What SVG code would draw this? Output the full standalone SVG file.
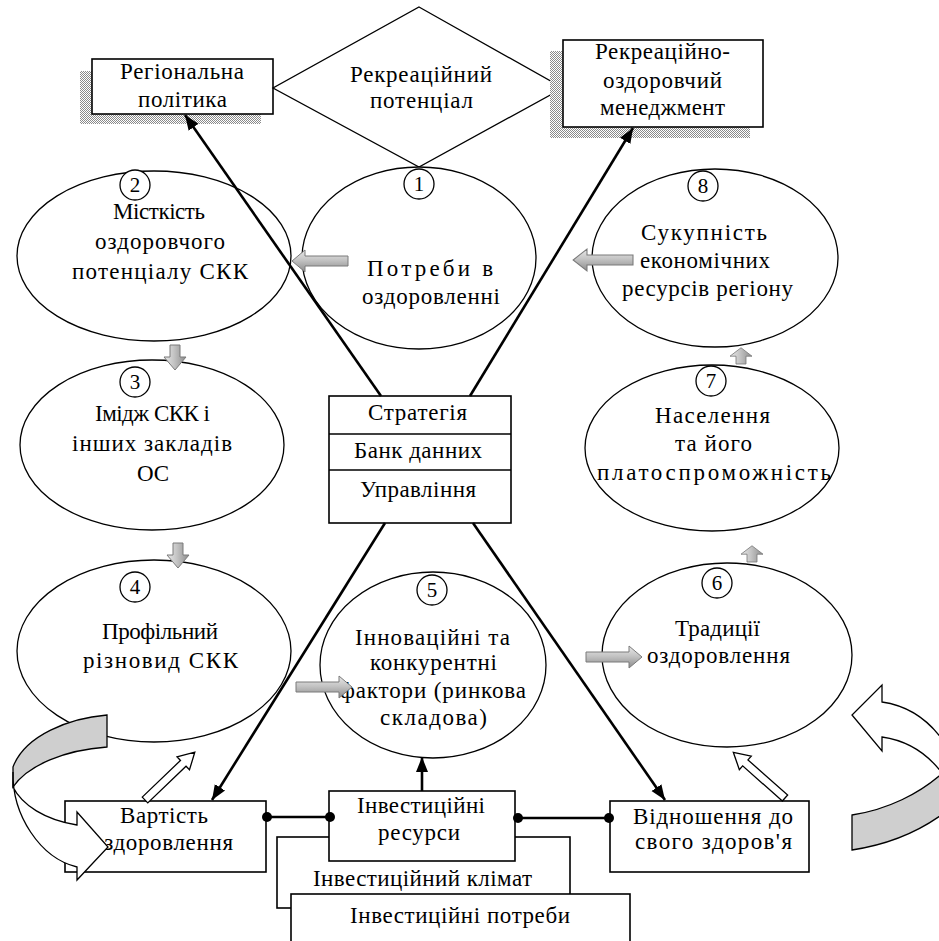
<svg xmlns="http://www.w3.org/2000/svg" xmlns:xlink="http://www.w3.org/1999/xlink" width="939" height="941" viewBox="0 0 939 941">
<style>
.t{font-family:"Liberation Serif","Times New Roman",serif;font-size:23px;fill:#000}
.n{font-family:"Liberation Serif","Times New Roman",serif;font-size:21px;fill:#000;text-anchor:middle}
.e{fill:#fff;stroke:#000;stroke-width:1.3}
.b{fill:#fff;stroke:#000;stroke-width:1.6}
.c{stroke:#000;stroke-width:2.6;fill:none}
.ga{fill:url(#gh);stroke:#7a7a7a;stroke-width:1}
.gv{fill:url(#gvv);stroke:#7a7a7a;stroke-width:1}
.ho{fill:#fff;stroke:#000;stroke-width:1.3}
</style>
<defs>
<pattern id="dots" width="2" height="2" patternUnits="userSpaceOnUse">
<rect width="2" height="2" fill="#fff"/>
<rect width="1" height="1" fill="#8a8a8a"/>
<rect x="1" y="1" width="1" height="1" fill="#8a8a8a"/>
</pattern>
<linearGradient id="gh" x1="0" y1="0" x2="0" y2="1">
<stop offset="0" stop-color="#e8e8e8"/>
<stop offset="0.45" stop-color="#c4c4c4"/>
<stop offset="1" stop-color="#8c8c8c"/>
</linearGradient>
<linearGradient id="gvv" x1="0" y1="0" x2="1" y2="0">
<stop offset="0" stop-color="#e8e8e8"/>
<stop offset="0.45" stop-color="#c4c4c4"/>
<stop offset="1" stop-color="#8c8c8c"/>
</linearGradient>
<marker id="ah" markerUnits="userSpaceOnUse" markerWidth="16" markerHeight="14" refX="15" refY="7" orient="auto">
<path d="M0,1 L15,7 L0,13 Z" fill="#000"/>
</marker>
<path id="harr" d="M0,-5 L43,-5 L43,-11 L56,0 L43,11 L43,5 L0,5 Z"/>
<path id="varr" d="M-5,0 L5,0 L5,12 L11,12 L0,25 L-11,12 L-5,12 Z"/>
</defs>

<rect width="939" height="941" fill="#fff"/>

<g id="node-regional-policy">
<rect x="80" y="71" width="181" height="53" fill="url(#dots)"/>
<rect class="b" x="92" y="59" width="181" height="55"/>
<text class="t" x="120" y="79" textLength="124" lengthAdjust="spacing">Регіональна</text>
<text class="t" x="138" y="107" textLength="89" lengthAdjust="spacing">політика</text>
</g>

<g id="node-recreational-potential">
<polygon points="419,7 563,88 419,167 273,88" fill="#fff" stroke="#000" stroke-width="1.3"/>
<text class="t" x="350" y="82" textLength="142" lengthAdjust="spacing">Рекреаційний</text>
<text class="t" x="370" y="108" textLength="103" lengthAdjust="spacing">потенціал</text>
</g>

<g id="node-management">
<rect x="550" y="51" width="200" height="87" fill="url(#dots)"/>
<rect class="b" x="563" y="40" width="200" height="87"/>
<text class="t" x="595" y="59" textLength="135" lengthAdjust="spacing">Рекреаційно-</text>
<text class="t" x="603" y="88" textLength="119" lengthAdjust="spacing">оздоровчий</text>
<text class="t" x="600" y="115" textLength="125" lengthAdjust="spacing">менеджмент</text>
</g>

<g id="node-1">
<ellipse class="e" cx="419" cy="258" rx="117" ry="91"/>
<text class="t" x="367" y="276" textLength="126" lengthAdjust="spacing">Потреби в</text>
<text class="t" x="362" y="304" textLength="138" lengthAdjust="spacing">оздоровленні</text>
</g>

<g id="node-2">
<ellipse class="e" cx="154" cy="256" rx="137" ry="85"/>
<text class="t" x="113" y="219" textLength="92" lengthAdjust="spacing">Місткість</text>
<text class="t" x="95" y="249" textLength="130" lengthAdjust="spacing">оздоровчого</text>
<text class="t" x="72" y="279" textLength="176" lengthAdjust="spacing">потенціалу СКК</text>
</g>

<g id="node-3">
<ellipse class="e" cx="152" cy="445" rx="132" ry="85"/>
<text class="t" x="95" y="421" textLength="115" lengthAdjust="spacing">Імідж СКК і</text>
<text class="t" x="72" y="451" textLength="160" lengthAdjust="spacing">інших закладів</text>
<text class="t" x="137" y="481" textLength="32" lengthAdjust="spacing">ОС</text>
</g>

<g id="node-4">
<ellipse class="e" cx="154" cy="651" rx="137" ry="91"/>
<text class="t" x="102" y="639" textLength="116" lengthAdjust="spacing">Профільний</text>
<text class="t" x="83" y="668" textLength="155" lengthAdjust="spacing">різновид СКК</text>
</g>

<g id="node-5">
<ellipse class="e" cx="433" cy="665" rx="113" ry="93"/>
<text class="t" x="355" y="645" textLength="155" lengthAdjust="spacing">Інноваційні та</text>
<text class="t" x="370" y="670" textLength="127" lengthAdjust="spacing">конкурентні</text>
<text class="t" x="340" y="698" textLength="186" lengthAdjust="spacing">фактори (ринкова</text>
<text class="t" x="380" y="725" textLength="107" lengthAdjust="spacing">складова)</text>
</g>

<g id="node-6">
<ellipse class="e" cx="727" cy="655" rx="125" ry="92"/>
<text class="t" x="675" y="636" textLength="85" lengthAdjust="spacing">Традиції</text>
<text class="t" x="647" y="663" textLength="143" lengthAdjust="spacing">оздоровлення</text>
</g>

<g id="node-7">
<ellipse class="e" cx="712" cy="448" rx="127" ry="83"/>
<text class="t" x="655" y="423" textLength="115" lengthAdjust="spacing">Населення</text>
<text class="t" x="675" y="451" textLength="77" lengthAdjust="spacing">та його</text>
<text class="t" x="597" y="480" textLength="234" lengthAdjust="spacing">платоспроможність</text>
</g>

<g id="node-8">
<ellipse class="e" cx="715" cy="258" rx="123" ry="89"/>
<text class="t" x="641" y="240" textLength="126" lengthAdjust="spacing">Сукупність</text>
<text class="t" x="640" y="268" textLength="130" lengthAdjust="spacing">економічних</text>
<text class="t" x="622" y="296" textLength="171" lengthAdjust="spacing">ресурсів регіону</text>
</g>

<g id="node-center">
<rect class="b" x="329" y="396" width="182" height="127"/>
<line x1="329" y1="434" x2="511" y2="434" stroke="#000" stroke-width="1.6"/>
<line x1="329" y1="470" x2="511" y2="470" stroke="#000" stroke-width="1.6"/>
<text class="t" x="368" y="420" textLength="99" lengthAdjust="spacing">Стратегія</text>
<text class="t" x="354" y="458" textLength="128" lengthAdjust="spacing">Банк данних</text>
<text class="t" x="360" y="497" textLength="116" lengthAdjust="spacing">Управління</text>
</g>

<g id="node-investment-climate">
<rect class="b" x="277" y="837" width="293" height="71"/>
<text class="t" x="313" y="886" textLength="219" lengthAdjust="spacing">Інвестиційний клімат</text>
</g>

<g id="node-investment-needs">
<rect class="b" x="291" y="894" width="339" height="70"/>
<text class="t" x="350" y="923" textLength="220" lengthAdjust="spacing">Інвестиційні потреби</text>
</g>

<g id="node-investment-resources">
<rect class="b" x="329" y="791" width="186" height="70"/>
<text class="t" x="357" y="813" textLength="128" lengthAdjust="spacing">Інвестиційні</text>
<text class="t" x="378" y="840" textLength="82" lengthAdjust="spacing">ресурси</text>
</g>

<g id="node-cost">
<rect class="b" x="65" y="801" width="201" height="71"/>
<text class="t" x="120" y="823" textLength="88" lengthAdjust="spacing">Вартість</text>
<text class="t" x="92" y="850" textLength="141" lengthAdjust="spacing">оздоровлення</text>
</g>

<g id="node-attitude">
<rect class="b" x="610" y="801" width="199" height="71"/>
<text class="t" x="633" y="824" textLength="160" lengthAdjust="spacing">Відношення до</text>
<text class="t" x="635" y="849" textLength="157" lengthAdjust="spacing">свого здоров'я</text>
</g>

<g id="connectors">
<line class="c" x1="381" y1="396" x2="185" y2="115" marker-end="url(#ah)"/>
<line class="c" x1="470" y1="396" x2="633" y2="128" marker-end="url(#ah)"/>
<line class="c" x1="385" y1="523" x2="212" y2="800" marker-end="url(#ah)"/>
<line class="c" x1="473" y1="523" x2="665" y2="800" marker-end="url(#ah)"/>
<line class="c" x1="422" y1="791" x2="422" y2="757" marker-end="url(#ah)"/>
<line class="c" x1="266" y1="817" x2="330" y2="817"/>
<circle cx="267" cy="817" r="5" fill="#000"/>
<circle cx="330" cy="817" r="5" fill="#000"/>
<line class="c" x1="515" y1="818" x2="610" y2="818"/>
<circle cx="518" cy="818" r="5" fill="#000"/>
<circle cx="609" cy="818" r="5" fill="#000"/>
<use xlink:href="#harr" class="ga" transform="translate(348,261) scale(-1,1)"/>
<use xlink:href="#harr" class="ga" transform="translate(633,260) scale(-1.07,1)"/>
<use xlink:href="#harr" class="ga" transform="translate(296,687)"/>
<use xlink:href="#harr" class="ga" transform="translate(586,657)"/>
<use xlink:href="#varr" class="gv" transform="translate(175,345)"/>
<use xlink:href="#varr" class="gv" transform="translate(178,543)"/>
<use xlink:href="#varr" class="gv" transform="translate(741,364) scale(1,-0.65)"/>
<use xlink:href="#varr" class="gv" transform="translate(752,562) scale(1,-0.65)"/>
<polygon class="ho" points="0,-4 53,-4 53,-9 69,0 53,9 53,4 0,4" transform="translate(145,800) rotate(-43.8)"/>
<polygon class="ho" points="0,-4 53,-4 53,-9 69,0 53,9 53,4 0,4" transform="translate(785,798) rotate(-138.5)"/>
<path d="M107,715 C70,718 25,735 13,767 L13,787 C28,765 65,750 107,747 Z" fill="#cfcfcf" stroke="#000" stroke-width="1.3"/>
<path d="M13,772 C12,815 40,858 77,867 L77,880 L108,847 L77,812 L77,825 C45,820 22,805 13,787 Z" fill="#fff" stroke="#000" stroke-width="1.3"/>
<path d="M882,702 C910,706 932,722 948,748 L948,782 C932,756 910,741 882,737 L882,751 L852,715 L882,685 Z" fill="#fff" stroke="#000" stroke-width="1.3"/>
<path d="M852,815 C885,810 920,795 948,768 L948,810 C920,832 885,845 852,850 Z" fill="#cfcfcf" stroke="#000" stroke-width="1.3"/>
</g>

<g id="numbers">
<circle class="e" cx="419" cy="184" r="15"/><text class="n" x="419" y="191">1</text>
<circle class="e" cx="135" cy="185" r="15"/><text class="n" x="135" y="192">2</text>
<circle class="e" cx="135" cy="382" r="15"/><text class="n" x="135" y="389">3</text>
<circle class="e" cx="135" cy="587" r="15"/><text class="n" x="135" y="594">4</text>
<circle class="e" cx="432" cy="590" r="15"/><text class="n" x="432" y="597">5</text>
<circle class="e" cx="717" cy="583" r="15"/><text class="n" x="717" y="590">6</text>
<circle class="e" cx="711" cy="381" r="15"/><text class="n" x="711" y="388">7</text>
<circle class="e" cx="703" cy="186" r="15"/><text class="n" x="703" y="193">8</text>
</g>
</svg>
